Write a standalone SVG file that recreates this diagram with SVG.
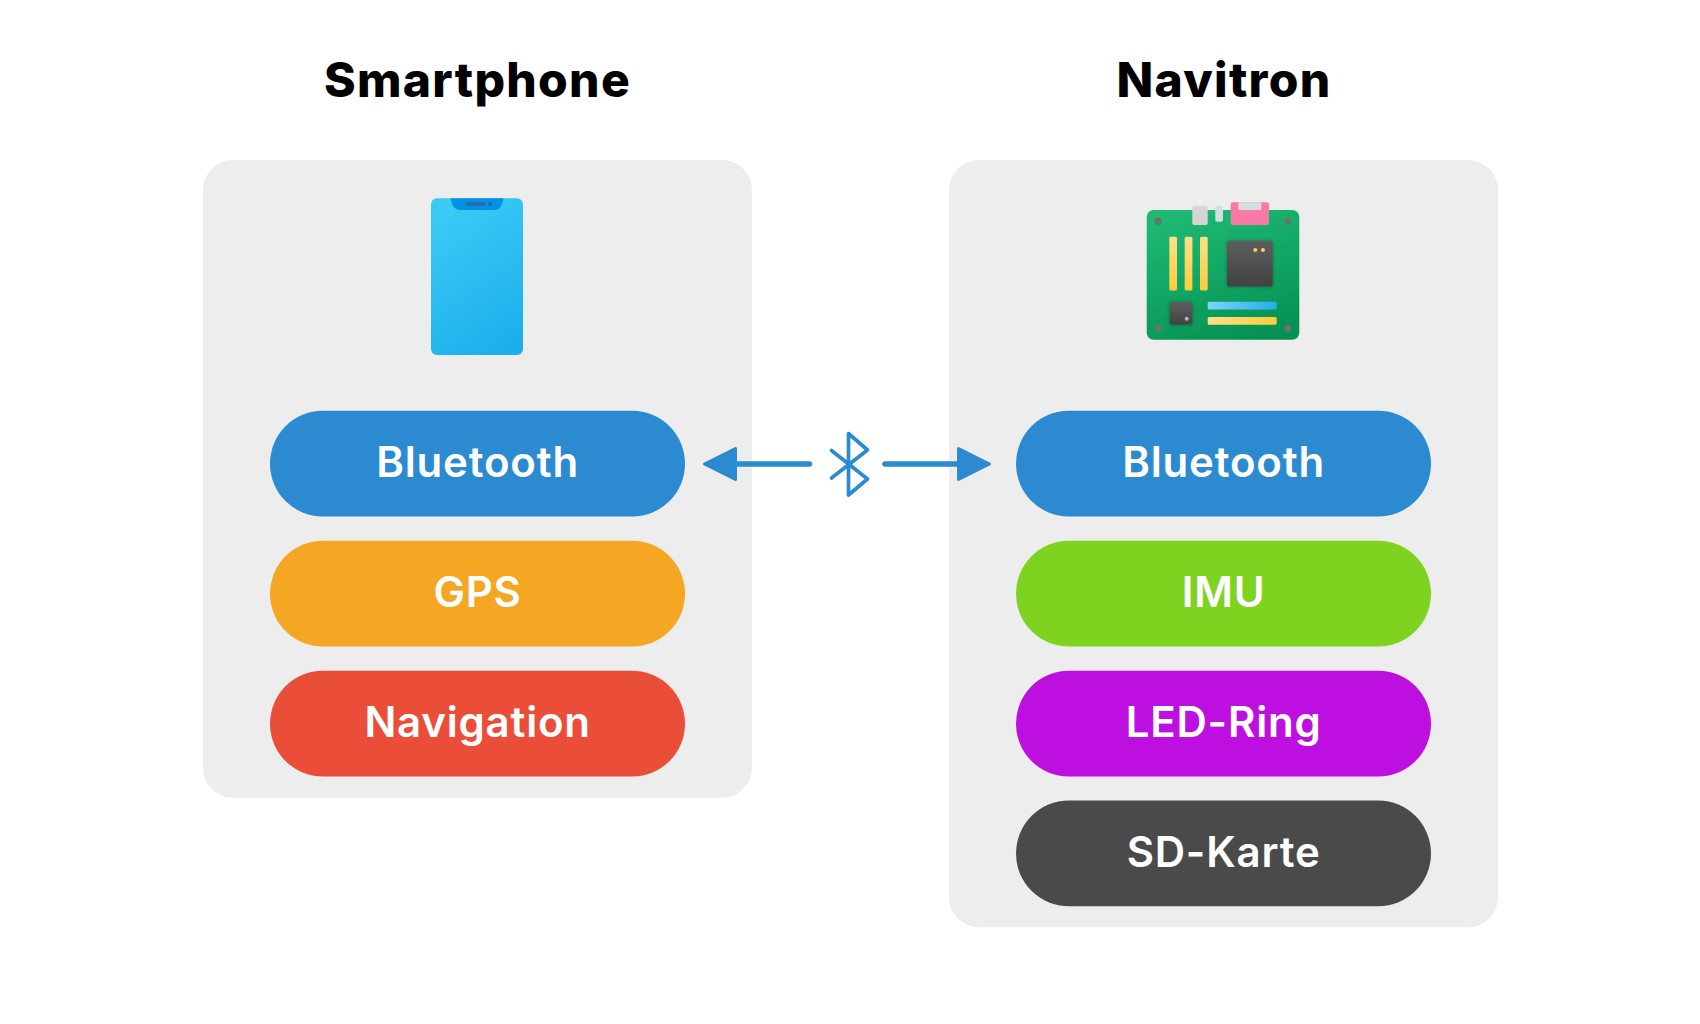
<svg xmlns="http://www.w3.org/2000/svg" width="1700" height="1024" viewBox="0 0 1700 1024">
<style>
.panel{fill:#ededed}
.pill{stroke:none}
.title{font-family:Inter,"Liberation Sans",sans-serif;font-weight:800;font-size:48px;letter-spacing:1.3px;fill:#000;text-anchor:middle}
.label{font-family:Inter,"Liberation Sans",sans-serif;font-weight:630;font-size:42px;letter-spacing:0.8px;fill:#fff;text-anchor:middle}
.conn{stroke:#2b8ad0;stroke-width:5.5;stroke-linecap:round;stroke-linejoin:round;fill:none}
.head{fill:#2b8ad0;stroke:#2b8ad0;stroke-width:3;stroke-linejoin:round}
.bt{stroke:#2b8ad0;stroke-width:3.7;stroke-linecap:round;stroke-linejoin:round;fill:none}
</style>
<defs>
<linearGradient id="phoneG" x1="0.3" y1="0" x2="0.7" y2="1"><stop offset="0" stop-color="#3ccaf5"/><stop offset="1" stop-color="#1cafec"/></linearGradient>
<linearGradient id="boardG" x1="0.3" y1="0" x2="0.7" y2="1"><stop offset="0" stop-color="#1eb973"/><stop offset="1" stop-color="#059153"/></linearGradient>
<linearGradient id="yelG" x1="0" y1="0" x2="0" y2="1"><stop offset="0" stop-color="#fee08a"/><stop offset="1" stop-color="#fdcb3c"/></linearGradient>
<linearGradient id="yelH" x1="0" y1="0" x2="1" y2="0"><stop offset="0" stop-color="#fee08a"/><stop offset="1" stop-color="#fdcb3c"/></linearGradient>
<linearGradient id="bluH" x1="0" y1="0" x2="1" y2="0"><stop offset="0" stop-color="#7fd4fb"/><stop offset="1" stop-color="#22aeea"/></linearGradient>
<linearGradient id="chipG" x1="0" y1="0" x2="0" y2="1"><stop offset="0" stop-color="#5e5e5e"/><stop offset="1" stop-color="#424242"/></linearGradient>
<filter id="soft" x="-30%" y="-30%" width="160%" height="160%"><feGaussianBlur stdDeviation="1.6"/></filter>
</defs>
<rect width="1700" height="1024" fill="#fff"/>
<g id="smartphone">
<text class="title" x="477.5" y="97">Smartphone</text>
<rect class="panel" x="203" y="160" width="549" height="637.7" rx="30"/>
<g id="phone-icon">
<rect x="431" y="198.3" width="92" height="156.7" rx="6" fill="url(#phoneG)"/>
<path d="M450.3 198.3H503.7L501.5 205Q499.5 210 494 210H461Q454.5 210 452.5 205Z" fill="#0591e3"/>
<rect x="465.7" y="202.3" width="19.5" height="3.6" rx="1.8" fill="#1f6ea8"/>
<circle cx="490.3" cy="204" r="1.9" fill="#1f6ea8"/>
</g>
</g>
<g id="navitron">
<text class="title" x="1224" y="97">Navitron</text>
<rect class="panel" x="949" y="160" width="549" height="767.3" rx="30"/>
<g id="board-icon">
<rect x="1146.7" y="210" width="152.6" height="129.7" rx="7" fill="url(#boardG)"/>
<rect x="1192.3" y="206" width="15.4" height="19" rx="2" fill="#d5d5d5"/>
<rect x="1215.3" y="206" width="7.7" height="15.7" rx="2" fill="#d3dde2"/>
<rect x="1230.7" y="202.3" width="38.3" height="22.7" rx="2" fill="#f87ba7"/>
<rect x="1238.3" y="202.3" width="23" height="7.7" rx="1.5" fill="#d6dde2"/>
<g fill="#62786e"><circle cx="1158" cy="221.3" r="3.7"/><circle cx="1287.7" cy="221.3" r="3.7"/><circle cx="1158" cy="328.3" r="3.7"/><circle cx="1287.7" cy="328.3" r="3.7"/></g>
<g fill="url(#yelG)"><rect x="1169.3" y="236.7" width="7.7" height="53.7" rx="1.5"/><rect x="1184.7" y="236.7" width="7.7" height="53.7" rx="1.5"/><rect x="1200" y="236.7" width="7.7" height="53.7" rx="1.5"/></g>
<rect x="1226.5" y="240.5" width="46.7" height="46.7" rx="3" fill="#000" opacity="0.22" filter="url(#soft)"/>
<rect x="1227" y="240.7" width="45.7" height="45.7" rx="3" fill="url(#chipG)"/>
<circle cx="1255.3" cy="250" r="2" fill="#fdd34f"/><circle cx="1263" cy="250" r="2" fill="#fdd34f"/>
<rect x="1169.2" y="301.8" width="23.6" height="23.6" rx="3" fill="#000" opacity="0.22" filter="url(#soft)"/>
<rect x="1169.7" y="302" width="22.6" height="22.6" rx="3" fill="url(#chipG)"/>
<circle cx="1186.7" cy="318.7" r="2" fill="#b5b5b5"/>
<rect x="1207.7" y="301.7" width="69" height="7.7" rx="1.5" fill="url(#bluH)"/>
<rect x="1207.7" y="317" width="69" height="7.7" rx="1.5" fill="url(#yelH)"/>
</g>
</g>
<g id="sp-bluetooth"><rect class="pill" x="270" y="410.8" width="415" height="105.7" rx="52.8" fill="#2b8ad0"/><text class="label" x="477.6" y="477.3">Bluetooth</text></g>
<g id="sp-gps"><rect class="pill" x="270" y="540.8" width="415" height="105.7" rx="52.8" fill="#f5a623"/><text class="label" x="477.6" y="607">GPS</text></g>
<g id="sp-navigation"><rect class="pill" x="270" y="670.8" width="415" height="105.7" rx="52.8" fill="#ea4e39"/><text class="label" x="477.6" y="736.7">Navigation</text></g>
<g id="nv-bluetooth"><rect class="pill" x="1016" y="410.8" width="415" height="105.7" rx="52.8" fill="#2b8ad0"/><text class="label" x="1223.6" y="477.3">Bluetooth</text></g>
<g id="nv-imu"><rect class="pill" x="1016" y="540.8" width="415" height="105.7" rx="52.8" fill="#7ed321"/><text class="label" x="1223.6" y="607">IMU</text></g>
<g id="nv-led"><rect class="pill" x="1016" y="670.8" width="415" height="105.7" rx="52.8" fill="#bd10e0"/><text class="label" x="1223.6" y="736.7">LED-Ring</text></g>
<g id="nv-sd"><rect class="pill" x="1016" y="800.6" width="415" height="105.7" rx="52.8" fill="#4a4a4a"/><text class="label" x="1223.6" y="866.7">SD-Karte</text></g>
<g id="connectors">
<path class="conn" d="M809.5 464H736"/><path class="head" d="M735.5 448.5V479.5L704.5 464Z"/>
<path class="conn" d="M885 464H958"/><path class="head" d="M958.5 448.5V479.5L989.5 464Z"/>
<path id="bluetooth-symbol" class="bt" d="M831.5 450.5L867.5 479L848.5 495V433.5L867.5 450L831.5 478"/>
</g>
</svg>
